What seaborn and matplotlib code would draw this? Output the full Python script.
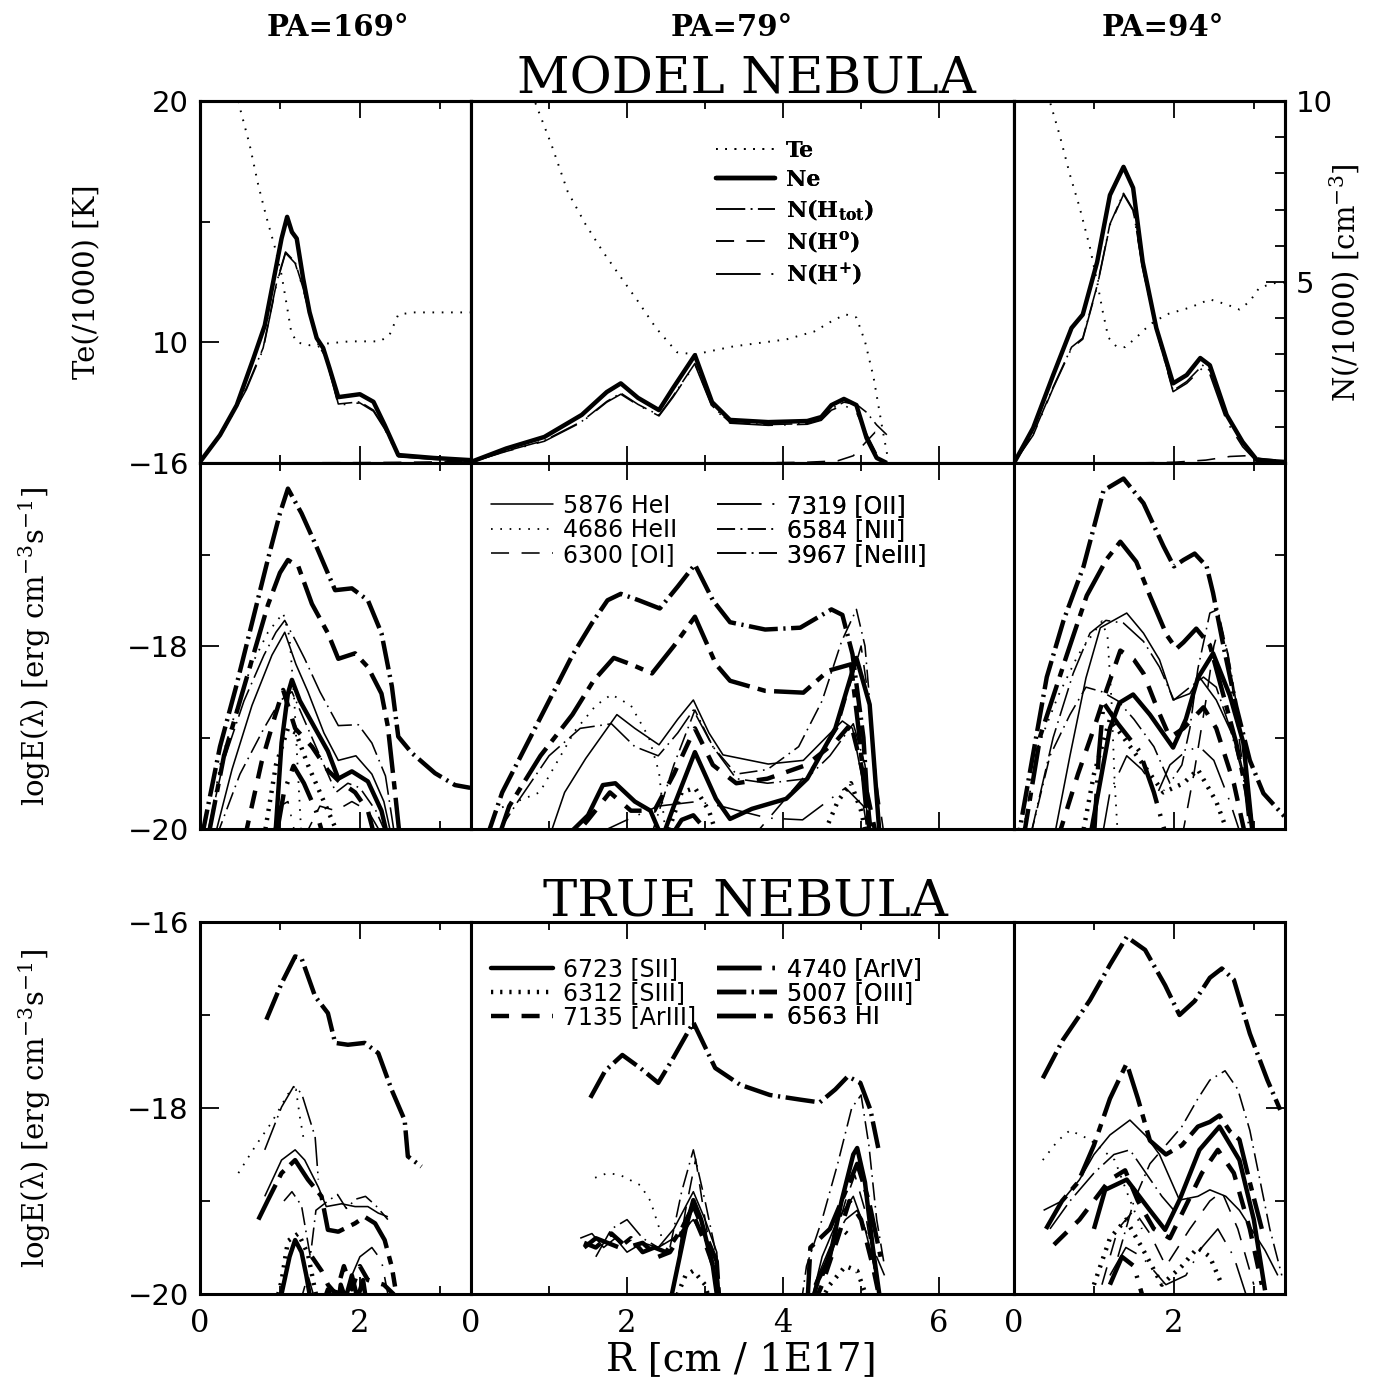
import matplotlib
matplotlib.use("Agg")
import matplotlib.pyplot as plt
import seaborn as sns
import pandas as pd
from matplotlib.ticker import MultipleLocator, FixedLocator
from matplotlib.lines import Line2D

# ---------------- DATA (R in 1E17 cm) ----------------
PA_LABELS = ["PA=169°", "PA=79°", "PA=94°"]
XMAX = [3.39, 6.96, 3.39]

# Row 1: Te (/1000 K) and densities (/1000 cm-3)
P169_TE = [(0.40,21.5),(0.50,19.7),(0.62,18.2),(0.73,16.5),(0.83,15.2),(0.94,13.9),(1.02,12.8),(1.09,11.45),(1.14,10.45),(1.21,10.0),(1.37,9.88),(1.87,10.04),(2.25,10.04),(2.37,10.3),(2.48,11.15),(2.67,11.24),(3.38,11.24)]
P169_NE = [(0.0,0.03),(0.25,0.77),(0.46,1.6),(0.67,2.9),(0.81,3.8),(0.94,5.28),(1.02,6.2),(1.09,6.8),(1.15,6.38),(1.21,6.2),(1.29,5.1),(1.37,4.17),(1.46,3.45),(1.54,3.18),(1.62,2.62),(1.73,1.82),(2.0,1.9),(2.17,1.69),(2.31,1.05),(2.48,0.22),(2.92,0.14),(3.38,0.08)]
P169_HTOT = [(0.0,0.02),(0.33,1.05),(0.58,2.07),(0.79,3.18),(0.96,5.0),(1.07,5.83),(1.19,5.55),(1.29,4.83),(1.40,3.9),(1.48,3.26),(1.58,2.9),(1.73,1.63),(2.0,1.69),(2.17,1.46),(2.31,0.97),(2.48,0.19),(2.92,0.12),(3.38,0.08)]
P169_HP = [(0.0,0.02),(0.33,1.02),(0.58,2.03),(0.79,3.14),(0.96,4.97),(1.07,5.8),(1.19,5.52),(1.29,4.8),(1.40,3.87),(1.48,3.23),(1.58,2.87),(1.73,1.6),(2.0,1.66),(2.17,1.43),(2.31,0.94),(2.48,0.17),(2.92,0.1),(3.38,0.05)]
P169_H0 = [(0.0,0.0),(1.0,0.005),(2.0,0.01),(2.6,0.02),(3.38,0.04)]

P79_TE = [(0.70,21.0),(0.82,19.96),(1.03,18.2),(1.24,16.24),(1.47,14.88),(1.69,13.76),(1.92,12.7),(2.14,11.7),(2.37,10.6),(2.64,9.59),(2.87,9.5),(3.36,9.83),(4.04,10.12),(4.40,10.45),(4.62,10.87),(4.80,11.16),(4.94,11.03),(5.05,10.04),(5.16,8.55),(5.27,6.48),(5.35,5.08)]
P79_NE = [(0.0,0.03),(0.45,0.4),(0.94,0.72),(1.42,1.33),(1.74,1.96),(1.92,2.2),(2.14,1.8),(2.41,1.46),(2.59,2.07),(2.87,2.98),(3.09,1.68),(3.32,1.19),(3.81,1.13),(4.31,1.16),(4.49,1.27),(4.62,1.6),(4.78,1.77),(4.94,1.6),(5.07,0.69),(5.20,0.14),(5.33,0.0)]
P79_HTOT = [(0.0,0.02),(0.45,0.33),(0.94,0.62),(1.42,1.15),(1.74,1.7),(1.92,1.93),(2.14,1.62),(2.41,1.32),(2.59,1.85),(2.87,2.75),(3.09,1.58),(3.32,1.12),(3.81,1.06),(4.31,1.09),(4.49,1.2),(4.62,1.5),(4.78,1.68),(4.94,1.62),(5.07,1.4),(5.20,1.05),(5.33,0.78)]
P79_HP = [(0.0,0.02),(0.45,0.32),(0.94,0.6),(1.42,1.13),(1.74,1.68),(1.92,1.9),(2.14,1.6),(2.41,1.3),(2.59,1.82),(2.87,2.72),(3.09,1.55),(3.32,1.1),(3.81,1.04),(4.31,1.07),(4.49,1.18),(4.62,1.46),(4.78,1.6),(4.94,1.4),(5.07,0.8),(5.20,0.25),(5.30,0.05)]
P79_H0 = [(0.0,0.0),(3.5,0.0),(4.3,0.02),(4.7,0.06),(4.9,0.2),(5.05,0.55),(5.18,0.85),(5.33,0.8)]

P94_TE = [(0.35,21.0),(0.45,19.96),(0.57,18.6),(0.70,16.94),(0.82,15.6),(0.95,13.93),(1.04,12.5),(1.11,11.28),(1.18,10.2),(1.28,9.83),(1.39,9.8),(1.53,10.2),(1.70,10.74),(1.91,11.16),(2.20,11.44),(2.45,11.78),(2.66,11.57),(2.82,11.36),(2.95,11.7),(3.07,12.27),(3.29,12.48),(3.38,12.48)]
P94_NE = [(0.0,0.0),(0.24,0.97),(0.49,2.43),(0.72,3.73),(0.86,4.1),(1.04,5.55),(1.20,7.4),(1.37,8.18),(1.49,7.6),(1.61,5.55),(1.78,3.73),(1.99,2.2),(2.16,2.43),(2.33,2.9),(2.45,2.7),(2.66,1.33),(2.86,0.58),(3.04,0.08),(3.38,0.03)]
P94_HTOT = [(0.0,0.0),(0.24,0.8),(0.49,2.1),(0.72,3.2),(0.86,3.45),(1.04,4.9),(1.20,6.6),(1.37,7.45),(1.49,7.0),(1.61,5.4),(1.78,3.7),(1.99,2.0),(2.16,2.25),(2.36,2.7),(2.45,2.55),(2.66,1.3),(2.86,0.6),(3.04,0.1),(3.38,0.04)]
P94_HP = [(0.0,0.0),(0.24,0.77),(0.49,2.07),(0.72,3.17),(0.86,3.42),(1.04,4.87),(1.20,6.57),(1.37,7.42),(1.49,6.97),(1.61,5.37),(1.78,3.67),(1.99,1.97),(2.16,2.2),(2.36,2.63),(2.45,2.45),(2.66,1.15),(2.86,0.45),(3.04,0.03),(3.38,0.0)]
P94_H0 = [(0.0,0.0),(1.5,0.0),(2.0,0.02),(2.4,0.08),(2.7,0.18),(2.9,0.2),(3.1,0.12),(3.38,0.06)]

# Row 2: model nebula, log emissivity
M169_HE1 = [(0.18,-20.1),(0.4,-19.35),(0.65,-18.65),(0.9,-18.1),(1.06,-17.85),(1.2,-18.2),(1.35,-18.5),(1.55,-18.95),(1.73,-19.25),(1.95,-19.2),(2.15,-19.4),(2.3,-19.7),(2.4,-20.1)]
M169_HE2 = [(0.1,-20.1),(0.25,-19.3),(0.45,-18.7),(0.65,-18.2),(0.85,-17.85),(1.04,-17.64),(1.12,-17.9),(1.18,-18.6),(1.22,-19.3),(1.27,-20.1)]
M169_O1 = [(1.3,-20.1),(1.5,-19.75),(1.7,-19.8),(1.9,-19.7),(2.1,-19.8),(2.3,-20.1)]
M169_O2 = [(0.9,-20.1),(1.0,-19.75),(1.1,-19.7),(1.2,-20.1)]
M169_N2 = [(0.2,-20.1),(0.5,-19.4),(0.8,-18.9),(1.0,-18.6),(1.15,-18.5),(1.3,-18.8),(1.5,-19.2),(1.7,-19.6),(1.85,-19.5),(2.0,-19.55),(2.2,-19.8),(2.35,-20.1)]
M169_NE3 = [(0.08,-20.1),(0.3,-19.25),(0.55,-18.6),(0.8,-18.1),(0.95,-17.85),(1.06,-17.72),(1.2,-17.95),(1.31,-18.14),(1.5,-18.5),(1.73,-18.87),(1.98,-18.86),(2.15,-19.06),(2.32,-19.42),(2.44,-20.1)]
M169_S2 = [(0.94,-20.1),(1.02,-19.06),(1.1,-18.52),(1.15,-18.37),(1.25,-18.6),(1.44,-18.9),(1.6,-19.15),(1.73,-19.45),(1.9,-19.37),(2.1,-19.48),(2.27,-19.8),(2.35,-20.1)]
M169_S3 = [(0.8,-20.1),(0.95,-19.3),(1.1,-18.9),(1.2,-18.95),(1.35,-19.3),(1.5,-19.6),(1.65,-19.9),(1.75,-20.1)]
M169_AR3 = [(0.56,-20.1),(0.77,-19.27),(0.94,-18.76),(1.04,-18.48),(1.19,-18.9),(1.4,-19.1),(1.6,-19.36),(1.73,-19.47),(1.94,-19.6),(2.1,-19.8),(2.19,-20.1)]
M169_AR4 = [(0.95,-20.1),(1.05,-19.6),(1.17,-19.31),(1.3,-19.5),(1.45,-19.8),(1.55,-20.1)]
M169_O3 = [(0.02,-20.1),(0.25,-19.1),(0.45,-18.45),(0.65,-17.75),(0.85,-17.05),(1.0,-16.55),(1.1,-16.28),(1.27,-16.55),(1.44,-16.88),(1.69,-17.39),(1.9,-17.37),(2.1,-17.5),(2.27,-17.86),(2.4,-18.44),(2.48,-18.99),(2.65,-19.17),(2.94,-19.39),(3.19,-19.52),(3.38,-19.55)]
M169_H1 = [(0.1,-20.1),(0.3,-19.2),(0.5,-18.6),(0.7,-18.0),(0.85,-17.55),(1.0,-17.2),(1.1,-17.06),(1.23,-17.13),(1.4,-17.54),(1.6,-17.86),(1.73,-18.14),(1.94,-18.08),(2.1,-18.23),(2.27,-18.52),(2.35,-18.88),(2.44,-19.6),(2.5,-20.1)]

M79_HE1 = [(1.0,-20.1),(1.2,-19.6),(1.47,-19.23),(1.87,-18.75),(2.1,-18.9),(2.41,-19.08),(2.65,-18.8),(2.85,-18.59),(3.05,-18.95),(3.23,-19.19),(3.81,-19.29),(4.26,-19.25),(4.55,-19.0),(4.76,-18.82),(4.89,-18.9),(5.03,-19.52),(5.12,-20.1)]
M79_HE2 = [(0.15,-20.1),(0.35,-19.78),(0.88,-19.6),(1.33,-18.93),(1.6,-18.65),(1.8,-18.53),(2.05,-18.65),(2.28,-19.0),(2.41,-19.38),(2.5,-20.1)]
M79_O1 = [(3.6,-20.1),(4.0,-19.7),(4.4,-19.3),(4.7,-18.9),(4.9,-18.3),(5.0,-18.0),(5.1,-18.6),(5.2,-19.5),(5.3,-20.1)]
M79_O2 = [(1.5,-20.1),(2.0,-19.9),(2.4,-19.75),(2.9,-19.7),(3.2,-19.75),(3.8,-19.88),(4.25,-19.9),(4.8,-19.55),(5.03,-19.75),(5.1,-20.1)]
M79_N2 = [(2.3,-20.1),(2.6,-19.3),(2.87,-18.7),(3.1,-19.1),(3.4,-19.4),(3.8,-19.35),(4.2,-19.1),(4.5,-18.6),(4.75,-17.95),(4.94,-17.6),(5.05,-18.0),(5.15,-19.0),(5.25,-20.1)]
M79_NE3 = [(0.3,-20.1),(0.6,-19.7),(1.0,-19.2),(1.4,-18.9),(1.8,-18.85),(2.1,-19.1),(2.4,-19.2),(2.65,-18.95),(2.85,-18.7),(3.1,-19.1),(3.4,-19.45),(3.8,-19.5),(4.3,-19.45),(4.6,-19.2),(4.9,-18.85),(5.05,-19.3),(5.15,-20.1)]
M79_S2 = [(1.2,-20.1),(1.5,-19.85),(1.69,-19.52),(1.85,-19.5),(2.1,-19.7),(2.3,-19.8),(2.45,-20.1),(2.6,-19.75),(2.87,-19.16),(3.14,-19.67),(3.32,-19.89),(3.6,-19.78),(4.04,-19.67),(4.31,-19.45),(4.67,-18.9),(4.94,-18.13),(5.11,-18.64),(5.24,-20.1)]
M79_S3 = [(2.5,-20.1),(2.7,-19.6),(2.87,-19.55),(3.05,-19.8),(3.2,-20.2),(4.0,-20.5),(4.5,-20.1),(4.7,-19.7),(4.87,-19.5),(5.0,-19.8),(5.1,-20.2)]
M79_AR3 = [(1.2,-20.2),(1.5,-19.9),(1.78,-19.6),(2.05,-19.8),(2.35,-19.8),(2.6,-19.4),(2.87,-18.9),(3.1,-19.3),(3.4,-19.5),(3.8,-19.45),(4.3,-19.3),(4.67,-19.05),(4.87,-18.85),(5.0,-19.3),(5.2,-20.1)]
M79_AR4 = [(2.55,-20.1),(2.7,-19.9),(2.85,-19.85),(2.95,-19.95),(3.1,-20.2)]
M79_O3 = [(0.2,-20.1),(0.4,-19.6),(0.7,-19.1),(1.0,-18.6),(1.3,-18.1),(1.55,-17.75),(1.75,-17.5),(1.92,-17.43),(2.15,-17.5),(2.42,-17.59),(2.65,-17.35),(2.87,-17.11),(3.1,-17.5),(3.32,-17.74),(3.77,-17.82),(4.22,-17.8),(4.62,-17.6),(4.76,-17.66),(4.89,-18.09),(5.03,-19.0),(5.11,-20.1)]
M79_H1 = [(0.35,-20.1),(0.49,-19.75),(0.89,-19.2),(1.3,-18.75),(1.57,-18.38),(1.83,-18.13),(2.05,-18.2),(2.32,-18.3),(2.6,-18.0),(2.87,-17.68),(3.14,-18.2),(3.32,-18.38),(3.77,-18.49),(4.26,-18.51),(4.58,-18.27),(4.87,-18.2),(4.98,-19.0),(5.1,-20.1)]

M94_HE1 = [(0.5,-20.1),(0.7,-19.2),(0.9,-18.35),(1.08,-17.8),(1.41,-17.64),(1.62,-17.86),(1.82,-18.15),(1.99,-18.59),(2.2,-18.52),(2.32,-18.34),(2.53,-18.59),(2.78,-19.06),(2.9,-19.5),(2.98,-20.1)]
M94_HE2 = [(0.1,-20.1),(0.3,-19.1),(0.55,-18.55),(0.8,-18.1),(1.0,-17.85),(1.1,-17.73),(1.17,-17.9),(1.22,-18.6),(1.26,-19.5),(1.3,-20.1)]
M94_O1 = [(2.1,-20.1),(2.25,-19.4),(2.4,-18.6),(2.5,-18.0),(2.58,-17.75),(2.68,-18.1),(2.8,-18.9),(2.92,-19.7),(3.0,-20.1)]
M94_O2 = [(1.1,-20.1),(1.2,-19.6),(1.41,-19.2),(1.6,-19.35),(1.8,-19.6),(1.95,-19.3),(2.15,-19.15),(2.32,-19.1),(2.5,-19.25),(2.7,-19.7),(2.85,-20.1)]
M94_N2 = [(0.2,-20.1),(0.45,-19.2),(0.7,-18.75),(0.9,-18.45),(1.1,-18.5),(1.3,-18.6),(1.5,-18.8),(1.75,-19.1),(1.95,-19.5),(2.1,-19.3),(2.2,-18.9),(2.3,-18.25),(2.45,-17.64),(2.55,-17.6),(2.7,-18.2),(2.85,-19.0),(2.95,-19.7),(3.0,-20.1)]
M94_NE3 = [(0.2,-20.1),(0.49,-19.0),(0.74,-18.3),(0.95,-17.86),(1.15,-17.72),(1.37,-17.75),(1.62,-17.95),(1.82,-18.23),(2.0,-18.59),(2.2,-18.45),(2.37,-18.34),(2.53,-18.45),(2.7,-18.89),(2.87,-19.43),(2.95,-20.1)]
M94_S2 = [(0.95,-20.1),(1.2,-18.9),(1.32,-18.62),(1.49,-18.53),(1.7,-18.75),(1.99,-19.11),(2.15,-18.8),(2.3,-18.35),(2.49,-18.08),(2.7,-18.54),(2.87,-19.06),(2.99,-20.1)]
M94_S3 = [(0.85,-20.1),(1.0,-19.4),(1.2,-18.8),(1.37,-19.0),(1.62,-19.3),(1.87,-19.6),(2.12,-19.5),(2.3,-19.35),(2.53,-19.7),(2.7,-20.1)]
M94_AR3 = [(0.55,-20.1),(0.8,-19.4),(1.0,-18.9),(1.15,-18.5),(1.33,-18.05),(1.5,-18.15),(1.62,-18.3),(1.8,-18.7),(1.95,-19.0),(2.12,-18.9),(2.37,-18.67),(2.53,-18.9),(2.75,-19.5),(2.9,-20.1)]
M94_AR4 = [(1.0,-20.1),(1.06,-19.2),(1.12,-18.62),(1.3,-18.85),(1.57,-19.15),(1.75,-19.6),(1.91,-20.1)]
M94_O3 = [(0.0,-20.3),(0.075,-19.99),(0.41,-18.34),(0.62,-17.72),(0.87,-17.13),(1.0,-16.7),(1.12,-16.3),(1.37,-16.17),(1.62,-16.44),(1.87,-16.91),(2.0,-17.13),(2.12,-17.06),(2.26,-16.99),(2.41,-17.13),(2.49,-17.42),(2.62,-18.0),(2.78,-18.66),(2.95,-19.25),(3.12,-19.61),(3.38,-19.86)]
M94_H1 = [(0.1,-20.2),(0.33,-18.98),(0.66,-18.1),(0.91,-17.45),(1.16,-17.05),(1.33,-16.86),(1.53,-17.08),(1.7,-17.45),(1.91,-17.88),(2.03,-18.03),(2.12,-17.96),(2.28,-17.81),(2.45,-17.99),(2.62,-18.54),(2.78,-19.06),(2.91,-19.61),(3.0,-20.1)]

# Row 3: true nebula, log emissivity
O169_HE1 = [(0.81,-18.95),(1.02,-18.56),(1.19,-18.45),(1.31,-18.56),(1.48,-18.85),(1.58,-19.06),(1.77,-19.03),(1.94,-19.06),(2.1,-19.06),(2.23,-19.13),(2.35,-19.17)]
O169_HE2 = [(0.48,-18.7),(0.7,-18.4),(0.9,-18.15),(1.1,-17.85),(1.2,-17.8),(1.25,-18.1),(1.3,-18.35)]
O169_O1 = [(1.25,-20.1),(1.35,-19.8),(1.45,-20.1)]
O169_O2 = [(1.9,-19.8),(2.0,-19.6),(2.15,-19.5),(2.27,-19.64),(2.35,-20.0)]
O169_N2 = [(1.05,-19.0),(1.15,-18.9),(1.27,-19.05),(1.38,-19.6),(1.45,-19.1),(1.6,-19.0),(1.72,-18.93),(1.83,-19.08),(1.95,-18.98),(2.07,-18.95),(2.2,-19.05),(2.35,-19.2)]
O169_NE3 = [(0.81,-18.45),(1.02,-17.99),(1.17,-17.77),(1.27,-17.84),(1.44,-18.31),(1.48,-18.77)]
O169_S2 = [(1.02,-20.0),(1.12,-19.6),(1.19,-19.42),(1.27,-19.55),(1.33,-19.8),(1.38,-20.05),(1.5,-20.4),(1.7,-20.3),(1.76,-19.9),(1.82,-20.05),(1.9,-19.8),(1.97,-20.05),(2.04,-19.85),(2.1,-20.2)]
O169_S3 = [(0.95,-20.1),(1.02,-19.86),(1.1,-19.43),(1.23,-19.35),(1.35,-19.57),(1.43,-19.92),(1.5,-20.2)]
O169_AR3 = [(1.4,-19.6),(1.52,-19.75),(1.6,-19.9),(1.7,-20.0),(1.8,-19.7),(1.9,-19.95),(2.0,-19.7),(2.1,-19.85),(2.3,-19.9),(2.42,-20.0),(2.5,-20.2)]
O169_AR4 = [(1.5,-20.2),(1.6,-19.95),(1.7,-20.15)]
O169_O3 = [(0.83,-17.05),(1.02,-16.66),(1.19,-16.37),(1.27,-16.39),(1.44,-16.8),(1.6,-16.98),(1.69,-17.3),(1.85,-17.32),(2.06,-17.3),(2.23,-17.41),(2.4,-17.81),(2.56,-18.13),(2.6,-18.52),(2.77,-18.63)]
O169_H1 = [(0.73,-19.2),(0.85,-18.99),(1.02,-18.7),(1.19,-18.56),(1.35,-18.77),(1.52,-18.95),(1.6,-19.31),(1.73,-19.33),(1.94,-19.24),(2.06,-19.17),(2.19,-19.24),(2.31,-19.42),(2.4,-19.71),(2.44,-19.92)]

O79_HE1 = [(1.4,-19.4),(1.55,-19.35),(1.7,-19.5),(1.85,-19.4),(2.0,-19.55),(2.2,-19.45),(2.4,-19.5),(2.6,-19.3),(2.85,-18.9),(3.0,-19.2),(3.15,-19.55),(3.2,-20.3),(4.3,-20.3),(4.5,-19.6),(4.7,-19.2),(4.9,-18.95),(5.05,-19.3),(5.2,-19.8)]
O79_HE2 = [(1.59,-18.75),(1.75,-18.7),(1.91,-18.72),(2.17,-18.83),(2.3,-19.0),(2.42,-19.31),(2.5,-19.6)]
O79_O1 = [(2.6,-19.9),(2.75,-19.1),(2.88,-18.55),(3.0,-19.2),(3.15,-19.9),(3.2,-20.3),(4.3,-20.3),(4.4,-20.1),(4.6,-19.6),(4.8,-19.0),(4.92,-18.72),(5.05,-19.1),(5.2,-19.9)]
O79_O2 = [(4.4,-19.9),(4.6,-19.5),(4.8,-19.2),(4.95,-19.1),(5.1,-19.4),(5.3,-19.8)]
O79_N2 = [(2.55,-19.5),(2.7,-18.9),(2.85,-18.45),(3.0,-19.0),(3.15,-19.6),(3.2,-20.3),(4.2,-20.3),(4.3,-19.7),(4.5,-19.2),(4.7,-18.6),(4.88,-18.0),(5.0,-17.86),(5.1,-18.4),(5.2,-19.2),(5.3,-19.7)]
O79_NE3 = [(1.6,-19.6),(1.8,-19.3),(2.0,-19.2),(2.2,-19.4),(2.4,-19.5),(2.6,-19.4),(2.85,-19.2),(3.05,-19.5)]
O79_S2 = [(2.55,-20.1),(2.75,-19.3),(2.85,-18.99),(2.95,-19.2),(3.1,-19.7),(3.2,-20.3),(4.3,-20.3),(4.45,-19.85),(4.6,-19.6),(4.75,-19.0),(4.9,-18.5),(4.95,-18.43),(5.05,-18.8),(5.15,-19.5),(5.25,-20.1)]
O79_S3 = [(2.6,-20.1),(2.75,-19.8),(2.85,-19.75),(3.0,-19.9),(3.1,-20.2),(4.4,-20.2),(4.6,-19.9),(4.8,-19.7),(4.95,-19.75),(5.1,-20.1)]
O79_AR3 = [(1.45,-19.45),(1.6,-19.5),(1.8,-19.35),(2.0,-19.5),(2.2,-19.45),(2.4,-19.6),(2.55,-19.55),(2.7,-19.35),(2.85,-19.15),(3.0,-19.45),(3.15,-19.8),(3.2,-20.3),(4.3,-20.3),(4.5,-19.9),(4.7,-19.4),(4.85,-19.0),(5.0,-19.2),(5.15,-19.7),(5.25,-20.1)]
O79_AR4 = [(4.5,-19.8),(4.65,-19.45),(4.75,-19.3),(4.82,-19.35)]
O79_O3 = [(1.53,-17.89),(1.72,-17.6),(1.94,-17.43),(2.17,-17.57),(2.4,-17.73),(2.58,-17.48),(2.85,-17.08),(3.13,-17.57),(3.45,-17.75),(3.83,-17.86),(4.22,-17.91),(4.47,-17.94),(4.67,-17.8),(4.83,-17.66),(4.99,-17.73),(5.12,-18.02),(5.22,-18.43)]
O79_H1 = [(1.45,-19.5),(1.6,-19.4),(1.75,-19.45),(1.9,-19.5),(2.05,-19.4),(2.2,-19.55),(2.35,-19.5),(2.5,-19.55),(2.7,-19.3),(2.85,-19.05),(3.0,-19.35),(3.15,-19.65),(3.2,-20.3),(4.3,-20.3),(4.35,-19.5),(4.6,-19.3),(4.8,-18.9),(4.95,-18.6),(5.1,-19.0),(5.25,-19.6)]

O94_HE1 = [(0.37,-19.1),(0.6,-19.0),(0.82,-18.77),(1.0,-18.5),(1.2,-18.29),(1.45,-18.13),(1.65,-18.3),(1.82,-18.5),(2.07,-18.99),(2.3,-18.95),(2.45,-18.88),(2.65,-18.95),(2.82,-19.1),(3.14,-19.53),(3.3,-19.8)]
O94_HE2 = [(0.36,-18.56),(0.55,-18.35),(0.7,-18.24),(0.95,-18.34),(1.26,-18.56),(1.45,-18.99),(1.6,-19.3)]
O94_O1 = [(1.1,-19.9),(1.3,-19.3),(1.5,-19.1),(1.7,-19.35),(1.9,-19.7),(2.2,-19.3),(2.45,-19.0),(2.6,-18.9),(2.8,-19.3),(3.0,-19.9)]
O94_O2 = [(1.2,-19.8),(1.4,-19.5),(1.6,-19.6),(1.9,-19.9),(2.15,-19.8),(2.35,-19.5),(2.55,-19.3),(2.75,-19.6),(2.9,-20.0)]
O94_N2 = [(1.3,-19.6),(1.5,-19.0),(1.7,-18.6),(1.9,-18.4),(2.1,-18.2),(2.3,-17.9),(2.45,-17.7),(2.64,-17.6),(2.8,-17.8),(2.95,-18.24),(3.2,-19.3),(3.35,-19.8)]
O94_NE3 = [(0.45,-19.3),(0.7,-19.0),(1.0,-18.7),(1.25,-18.5),(1.45,-18.45),(1.65,-18.7),(1.85,-18.95),(2.0,-19.1)]
O94_S2 = [(1.0,-19.3),(1.14,-18.88),(1.41,-18.77),(1.7,-19.1),(1.89,-19.31),(2.07,-18.99),(2.32,-18.45),(2.57,-18.2),(2.82,-18.56),(3.0,-19.2),(3.14,-19.96)]
O94_S3 = [(1.0,-19.9),(1.2,-19.4),(1.4,-19.2),(1.6,-19.5),(1.85,-19.9),(2.1,-19.7),(2.3,-19.5),(2.45,-19.6),(2.6,-19.9)]
O94_AR3 = [(0.5,-19.47),(0.82,-19.2),(1.2,-18.77),(1.39,-18.67),(1.55,-19.0),(1.75,-19.3),(1.95,-19.4),(2.15,-19.05),(2.35,-18.7),(2.55,-18.45),(2.75,-18.7),(2.95,-19.3),(3.1,-19.9)]
O94_AR4 = [(1.2,-19.9),(1.35,-19.6),(1.5,-19.7),(1.6,-20.0)]
O94_O3 = [(0.36,-17.68),(0.61,-17.27),(0.95,-16.84),(1.2,-16.46),(1.41,-16.16),(1.64,-16.3),(1.89,-16.68),(2.07,-17.0),(2.26,-16.85),(2.45,-16.6),(2.6,-16.5),(2.75,-16.62),(2.95,-17.2),(3.17,-17.7),(3.33,-18.02)]
O94_H1 = [(0.4,-19.3),(0.6,-19.0),(0.8,-18.8),(1.0,-18.4),(1.2,-17.9),(1.41,-17.52),(1.55,-17.9),(1.7,-18.35),(1.9,-18.5),(2.1,-18.4),(2.3,-18.2),(2.45,-18.15),(2.57,-18.08),(2.7,-18.25),(2.82,-18.34),(2.95,-18.8),(3.1,-19.3)]

PROFILE_LABELS = ["Te", "Ne", "N(H$_\\mathbf{tot}$)", "N(H$^\\mathbf{o}$)", "N(H$^\\mathbf{+}$)"]
LINE_LABELS_A = ["5876 HeI", "4686 HeII", "6300 [OI]"]
LINE_LABELS_B = ["7319 [OII]", "6584 [NII]", "3967 [NeIII]"]
LINE_LABELS_C = ["6723 [SII]", "6312 [SIII]", "7135 [ArIII]"]
LINE_LABELS_D = ["4740 [ArIV]", "5007 [OIII]", "6563 HI"]

# ---------------- STYLE ----------------
sns.set_theme(style="white")
plt.rcParams.update({
    "lines.scale_dashes": False,
    "mathtext.fontset": "dejavuserif",
    "axes.linewidth": 2.2,
    "axes.edgecolor": "black",
    "text.color": "black",
    "axes.labelcolor": "black",
    "xtick.color": "black",
    "ytick.color": "black",
})
plt.rcParams["font.family"] = ["DejaVu Sans"]

THIN, THICK = 1.15, 3.2
STY = {
    "te": (1.4, (0, (1.2, 5.5))),
    "ne": (THICK, "-"),
    "htot": (THIN, (0, (21, 4, 1.2, 4))),
    "h0": (THIN, (0, (13, 9))),
    "hp": (THIN, (0, (32, 8, 1.2, 8))),
    "he1": (THIN, "-"),
    "he2": (1.3, (0, (1.2, 5.5))),
    "o1": (THIN, (0, (13, 9))),
    "o2": (THIN, (0, (32, 8, 1.2, 8))),
    "n2": (THIN, (0, (13, 4, 1.2, 4))),
    "ne3": (THIN, (0, (21, 4, 1.2, 4))),
    "s2": (THICK, "-"),
    "s3": (THICK, (0, (1.6, 5))),
    "ar3": (THICK, (0, (13, 9))),
    "ar4": (THICK, (0, (32, 8, 1.6, 8))),
    "o3": (THICK, (0, (21, 4, 1.6, 4))),
    "h1": (THICK, (0, (28, 6, 6, 6))),
}

PROFILES = [
    {"te": P169_TE, "ne": P169_NE, "htot": P169_HTOT, "h0": P169_H0, "hp": P169_HP},
    {"te": P79_TE, "ne": P79_NE, "htot": P79_HTOT, "h0": P79_H0, "hp": P79_HP},
    {"te": P94_TE, "ne": P94_NE, "htot": P94_HTOT, "h0": P94_H0, "hp": P94_HP},
]
MODEL = [
    {"he1": M169_HE1, "he2": M169_HE2, "o1": M169_O1, "o2": M169_O2, "n2": M169_N2, "ne3": M169_NE3,
     "s2": M169_S2, "s3": M169_S3, "ar3": M169_AR3, "ar4": M169_AR4, "o3": M169_O3, "h1": M169_H1},
    {"he1": M79_HE1, "he2": M79_HE2, "o1": M79_O1, "o2": M79_O2, "n2": M79_N2, "ne3": M79_NE3,
     "s2": M79_S2, "s3": M79_S3, "ar3": M79_AR3, "ar4": M79_AR4, "o3": M79_O3, "h1": M79_H1},
    {"he1": M94_HE1, "he2": M94_HE2, "o1": M94_O1, "o2": M94_O2, "n2": M94_N2, "ne3": M94_NE3,
     "s2": M94_S2, "s3": M94_S3, "ar3": M94_AR3, "ar4": M94_AR4, "o3": M94_O3, "h1": M94_H1},
]
TRUE = [
    {"he1": O169_HE1, "he2": O169_HE2, "o1": O169_O1, "o2": O169_O2, "n2": O169_N2, "ne3": O169_NE3,
     "s2": O169_S2, "s3": O169_S3, "ar3": O169_AR3, "ar4": O169_AR4, "o3": O169_O3, "h1": O169_H1},
    {"he1": O79_HE1, "he2": O79_HE2, "o1": O79_O1, "o2": O79_O2, "n2": O79_N2, "ne3": O79_NE3,
     "s2": O79_S2, "s3": O79_S3, "ar3": O79_AR3, "ar4": O79_AR4, "o3": O79_O3, "h1": O79_H1},
    {"he1": O94_HE1, "he2": O94_HE2, "o1": O94_O1, "o2": O94_O2, "n2": O94_N2, "ne3": O94_NE3,
     "s2": O94_S2, "s3": O94_S3, "ar3": O94_AR3, "ar4": O94_AR4, "o3": O94_O3, "h1": O94_H1},
]

W, H = 1373, 1391
COL_PX = [(200, 471), (471, 1014), (1014, 1285)]
ROW_PX = [(101, 463), (463, 829), (922, 1294)]


def make_ax(fig, c, r):
    x0, x1 = COL_PX[c]
    y0, y1 = ROW_PX[r]
    return fig.add_axes([x0 / W, 1 - y1 / H, (x1 - x0) / W, (y1 - y0) / H])


def draw(ax, pts, key):
    df = pd.DataFrame(pts, columns=["R", "val"])
    lw, ls = STY[key]
    sns.lineplot(data=df, x="R", y="val", ax=ax, color="black", linewidth=lw,
                 linestyle=ls, sort=False, estimator=None, legend=False,
                 solid_capstyle="butt", dash_capstyle="butt")
    ax.set_xlabel("")
    ax.set_ylabel("")


def xticks(ax, c, show_labels):
    ax.set_xlim(0, XMAX[c])
    ax.xaxis.set_major_locator(MultipleLocator(2))
    ax.xaxis.set_minor_locator(MultipleLocator(1))
    ax.tick_params(axis="x", which="both", direction="in", top=True, bottom=True,
                   labelbottom=show_labels, labeltop=False, width=1.3, pad=10,
                   labelsize=22, labelfontfamily="DejaVu Serif")
    ax.tick_params(axis="x", which="major", length=12)
    ax.tick_params(axis="x", which="minor", length=6)


def make_handles(keys):
    return [Line2D([], [], color="black", linewidth=STY[k][0], linestyle=STY[k][1],
                   dash_capstyle="butt") for k in keys]


def leg(ax, keys, labels, anchor, size, family, weight, hl, pad, spacing):
    lg = ax.legend(make_handles(keys), labels, loc="upper left", bbox_to_anchor=anchor,
                   frameon=False, handlelength=hl, handletextpad=pad, labelspacing=spacing,
                   borderpad=0, borderaxespad=0,
                   prop={"family": family, "size": size, "weight": weight})
    ax.add_artist(lg)


fig = plt.figure(figsize=(W / 100, H / 100), dpi=100)
fig.patch.set_facecolor("white")

ORDER = ["he1", "he2", "o1", "o2", "n2", "ne3", "s2", "s3", "ar3", "ar4", "o3", "h1"]

for c in range(3):
    # ---- row 1: temperature and densities
    ax = make_ax(fig, c, 0)
    tw = ax.twinx()
    draw(ax, PROFILES[c]["te"], "te")
    for k in ["htot", "hp", "h0", "ne"]:
        draw(tw, PROFILES[c][k], k)
    ax.set_ylim(5, 20)
    tw.set_ylim(0, 10)
    xticks(ax, c, False)
    ax.yaxis.set_major_locator(FixedLocator([10, 20]))
    ax.yaxis.set_minor_locator(FixedLocator([15]))
    if c == 0:
        ax.tick_params(axis="y", which="both", direction="in", left=True, right=False,
                       labelleft=True, labelsize=21, width=1.3, pad=8)
        ax.tick_params(axis="y", which="major", length=14)
        ax.tick_params(axis="y", which="minor", length=7)
    else:
        ax.tick_params(axis="y", which="both", left=False, right=False, labelleft=False)
    if c == 2:
        tw.yaxis.set_major_locator(FixedLocator([5, 10]))
        tw.yaxis.set_minor_locator(MultipleLocator(1))
        tw.tick_params(axis="y", which="both", direction="in", right=True, left=False,
                       labelright=True, labelsize=21, width=1.3, pad=8)
        tw.tick_params(axis="y", which="major", length=14)
        tw.tick_params(axis="y", which="minor", length=7)
    else:
        tw.tick_params(axis="y", which="both", left=False, right=False, labelright=False)
    for sp in list(ax.spines.values()) + list(tw.spines.values()):
        sp.set_linewidth(2.2)
    if c == 1:
        leg(tw, ["te", "ne", "htot", "h0", "hp"], PROFILE_LABELS, (0.451, 0.892), 16,
            "DejaVu Serif", "bold", 2.65, 0.5, 0.3)

    # ---- rows 2 and 3: emissivities
    for r, data in [(1, MODEL[c]), (2, TRUE[c])]:
        ax = make_ax(fig, c, r)
        for k in ORDER:
            draw(ax, data[k], k)
        ax.set_ylim(-20, -16)
        xticks(ax, c, r == 2)
        ax.yaxis.set_major_locator(FixedLocator([-20, -18, -16]))
        ax.yaxis.set_minor_locator(FixedLocator([-19, -17]))
        if c == 0:
            ax.tick_params(axis="y", which="both", direction="in", left=True, right=False,
                           labelleft=True, labelsize=21, width=1.3, pad=8)
        elif c == 2:
            ax.tick_params(axis="y", which="both", direction="in", left=False, right=True,
                           labelleft=False, labelright=False, width=1.3)
        else:
            ax.tick_params(axis="y", which="both", left=False, right=False, labelleft=False)
        ax.tick_params(axis="y", which="major", length=14)
        ax.tick_params(axis="y", which="minor", length=7)
        for sp in ax.spines.values():
            sp.set_linewidth(2.2)
        if c == 1 and r == 1:
            leg(ax, ["he1", "he2", "o1"], LINE_LABELS_A, (0.037, 0.916), 17, "DejaVu Sans", "normal", 2.63, 0.42, 0.02)
            leg(ax, ["o2", "n2", "ne3"], LINE_LABELS_B, (0.453, 0.916), 17, "DejaVu Sans", "normal", 2.55, 0.42, 0.02)
        if c == 1 and r == 2:
            leg(ax, ["s2", "s3", "ar3"], LINE_LABELS_C, (0.037, 0.905), 17, "DejaVu Sans", "normal", 2.63, 0.42, 0.0)
            leg(ax, ["ar4", "o3", "h1"], LINE_LABELS_D, (0.453, 0.905), 17, "DejaVu Sans", "normal", 2.55, 0.42, 0.0)

# ---- text
for xc, lab in zip([338, 732, 1163], PA_LABELS):
    fig.text(xc / W, 1 - 28 / H, lab, ha="center", va="center", family="DejaVu Serif",
             weight="bold", size=21)
fig.text(746 / W, 1 - 80 / H, "MODEL NEBULA", ha="center", va="center", family="DejaVu Serif", size=37)
fig.text(745 / W, 1 - 902 / H, "TRUE NEBULA", ha="center", va="center", family="DejaVu Serif", size=37)
fig.text(87 / W, 1 - 282 / H, "Te(/1000) [K]", rotation=90, ha="center", va="center",
         family="DejaVu Serif", size=21)
fig.text(1345 / W, 1 - 283 / H, "N(/1000) [cm$^{-3}$]", rotation=90, ha="center", va="center",
         family="DejaVu Serif", size=21)
for yc in [646, 1108]:
    fig.text(35 / W, 1 - yc / H, "logE(λ) [erg cm$^{-3}$s$^{-1}$]", rotation=90, ha="center",
             va="center", family="DejaVu Serif", size=21)
fig.text(741 / W, 1 - 1360 / H, "R [cm / 1E17]", ha="center", va="center", family="DejaVu Serif", size=28)

fig.savefig("out.png", dpi=100, facecolor="white")
